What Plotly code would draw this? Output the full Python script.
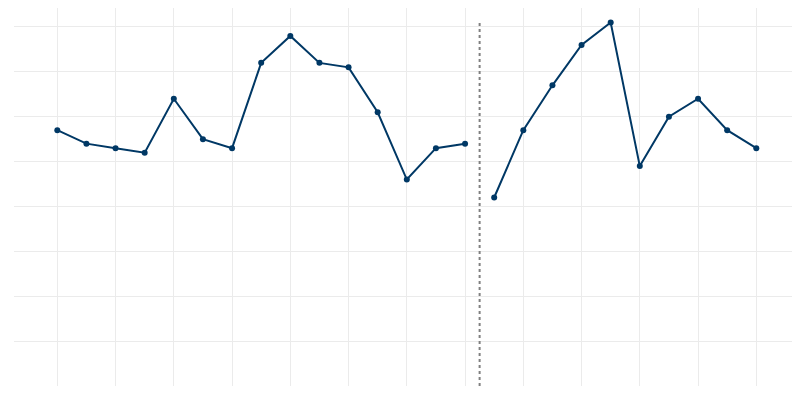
import plotly.graph_objects as go

period_a = [5.7, 5.4, 5.3, 5.2, 6.4, 5.5, 5.3, 7.2, 7.8, 7.2, 7.1, 6.1, 4.6, 5.3, 5.4]
period_b = [4.2, 5.7, 6.7, 7.6, 8.1, 4.9, 6.0, 6.4, 5.7, 5.3]

x_a = list(range(len(period_a)))
x_b = list(range(len(period_a), len(period_a) + len(period_b)))
divider_x = len(period_a) - 0.5

line_color = "#003865"

fig = go.Figure()
for xs, ys in [(x_a, period_a), (x_b, period_b)]:
    fig.add_trace(go.Scatter(
        x=xs, y=ys, mode="lines+markers",
        line=dict(color=line_color, width=2),
        marker=dict(color=line_color, size=6),
        showlegend=False, hoverinfo="skip",
    ))

fig.add_trace(go.Scatter(
    x=[divider_x, divider_x], y=[0, max(period_a + period_b)], mode="lines",
    line=dict(color="#808080", width=2, dash="dot"),
    showlegend=False, hoverinfo="skip",
))

fig.update_layout(
    width=800, height=400,
    margin=dict(l=6, r=0, t=0, b=22, pad=0),
    plot_bgcolor="white", paper_bgcolor="white",
    xaxis=dict(range=[-1.487, 25.775], tick0=0, dtick=2, showgrid=True,
               gridcolor="#ebebeb", gridwidth=1, zeroline=False,
               showticklabels=False, ticks="", showline=False),
    yaxis=dict(range=[0, 8.4225], tick0=0, dtick=1, showgrid=True,
               gridcolor="#ebebeb", gridwidth=1, zeroline=False,
               showticklabels=False, ticks="", showline=False),
)

fig.write_html("out.html")
